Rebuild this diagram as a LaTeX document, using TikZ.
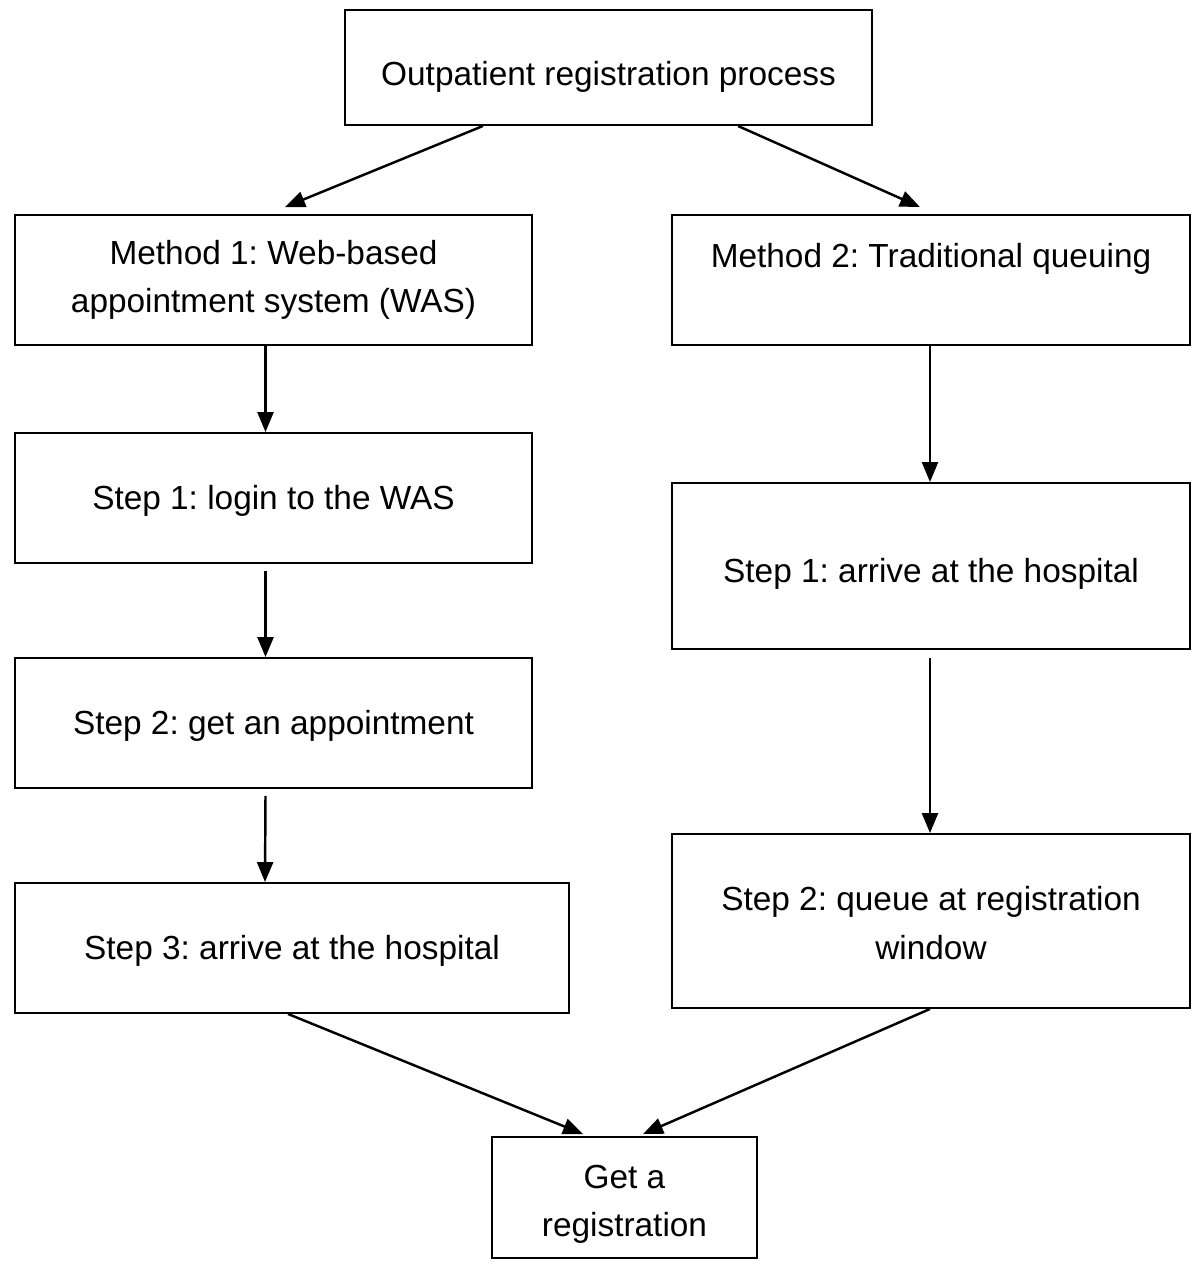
\documentclass[tikz,border=0pt]{standalone}
\usepackage{fontspec}
\setmainfont{Liberation Sans}
\frenchspacing
\usepackage{tikz}
\usetikzlibrary{calc,arrows.meta}
\tikzset{>={Triangle[length=0.4cm,width=0.32cm]}}

\begin{document}
\begin{tikzpicture}[x=0.02cm,y=-0.02cm,
    stepbox/.style={draw,line width=1.1pt,inner sep=0pt,align=center,
      font=\fontsize{19}{27.5}\selectfont,minimum height=2.6cm},
    drop/.style={execute at begin node={\rule{0pt}{#1}}},
    arr/.style={line width=1.4pt,->}]
  \useasboundingbox (0,0) rectangle (1200,1269);

  % top and the two methods
  \node[stepbox,drop=24pt,minimum width=10.54cm,minimum height=2.3cm] (proc) at (608.5,67.5) {Outpatient registration process};
  \node[stepbox,minimum width=10.34cm] (web) at (273.5,280) {Method 1: Web-based\\appointment system (WAS)};
  \node[stepbox,minimum width=10.36cm] (queue) at (931,280) {Method 2: Traditional queuing\\\mbox{}};

  % left column
  \node[stepbox,drop=17pt,minimum width=10.34cm] (login) at (273.5,498) {Step 1: login to the WAS};
  \node[stepbox,drop=17pt,minimum width=10.34cm] (appt) at (273.5,723) {Step 2: get an appointment};
  \node[stepbox,drop=17pt,minimum width=11.08cm] (arriveL) at (292,948) {Step 3: arrive at the hospital};

  % right column
  \node[stepbox,drop=23pt,minimum width=10.36cm,minimum height=3.32cm] (arriveR) at (931,566) {Step 1: arrive at the hospital};
  \node[stepbox,minimum width=10.36cm,minimum height=3.48cm] (window) at (931,921) {\rule{0pt}{16pt}Step 2: queue at registration\\window};

  % result
  \node[stepbox,minimum width=5.3cm,minimum height=2.42cm] (reg) at (624.5,1197.5) {\rule{0pt}{21pt}Get a\\registration};

  \draw[arr] ($(proc.south)+(-125.5,0)$) -- ($(web.north)+(11.5,-7)$);
  \draw[arr] ($(proc.south)+(129.5,0)$) -- ($(queue.north)+(-11,-7)$);

  \draw[arr] ($(web.south)+(-8,0)$) -- ($(login.north)+(-8,0)$);
  \draw[arr] ($(login.south)+(-8,7)$) -- ($(appt.north)+(-8,0)$);
  \draw[arr] ($(appt.south)+(-8,7)$) -- ($(arriveL.north)+(-27,0)$);

  \draw[arr] ($(queue.south)+(-1,0)$) -- ($(arriveR.north)+(-1,0)$);
  \draw[arr] ($(arriveR.south)+(-1,8)$) -- ($(window.north)+(-1,0)$);

  \draw[arr] ($(arriveL.south)+(-4,0)$) -- ($(reg.north)+(-41.5,-2)$);
  \draw[arr] ($(window.south)+(-1,0)$) -- ($(reg.north)+(18.5,-2)$);
\end{tikzpicture}
\end{document}
